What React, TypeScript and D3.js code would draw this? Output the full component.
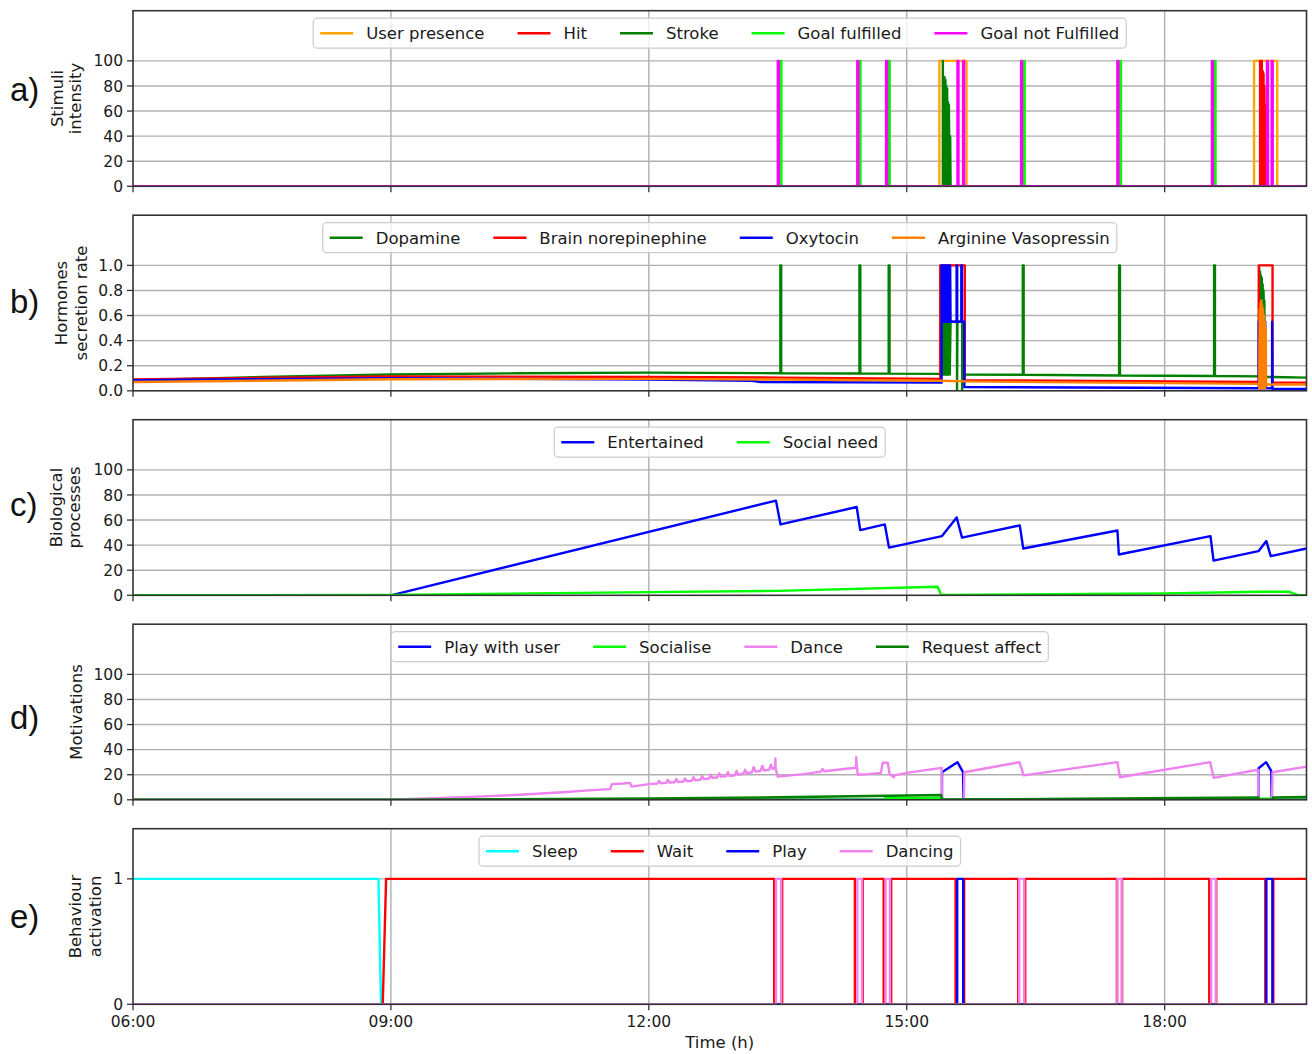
import React, { useEffect, useRef } from 'react';
import * as d3 from 'd3';

type Pt = [number, number];
type Iv = [number, number];

// ---------- shared time axis (hours of day) ----------
const timeDomain: [number, number] = [6, 19.65];
const timeTicks = [6, 9, 12, 15, 18];
const timeTickLabels = ['06:00', '09:00', '12:00', '15:00', '18:00'];

// ---------- a) stimuli ----------
const stimuliNames = ['User presence', 'Hit', 'Stroke', 'Goal fulfilled', 'Goal not Fulfilled'];
const stimuliColors = ['#FFA500', '#FF0000', '#008000', '#00FF00', '#FF00FF'];
const userPresenceIntervals: Iv[] = [[15.38, 15.695], [19.04, 19.31]];
const hitPoints: Pt[] = [
  [6, 0], [19.11, 0], [19.11, 100], [19.115, 0], [19.12, 100], [19.125, 0], [19.13, 100], [19.135, 0],
  [19.14, 92], [19.145, 0], [19.15, 90], [19.155, 0], [19.16, 80], [19.165, 0], [19.17, 65], [19.175, 0],
  [19.18, 60], [19.185, 0], [19.65, 0],
];
const strokePoints: Pt[] = [
  [6, 0], [15.42, 0], [15.42, 100], [15.425, 0], [15.43, 60], [15.435, 0], [15.44, 87], [15.445, 0],
  [15.45, 85], [15.455, 20], [15.46, 80], [15.465, 0], [15.47, 78], [15.475, 10], [15.48, 67], [15.485, 0],
  [15.49, 65], [15.5, 0], [15.505, 40], [15.51, 0], [19.65, 0],
];
const goalFulfilledTimes = [13.53, 14.45, 14.79, 16.36, 17.48, 18.58];
const goalNotFulfilledTimes = [13.5, 14.425, 14.76, 15.59, 15.655, 16.33, 17.45, 18.55, 19.19, 19.245];
const stimuliTicks = [0, 20, 40, 60, 80, 100];

// ---------- b) hormones ----------
const hormoneNames = ['Dopamine', 'Brain norepinephine', 'Oxytocin', 'Arginine Vasopressin'];
const hormoneColors = ['#008000', '#FF0000', '#0000FF', '#FF8000'];
const dopaminePoints: Pt[] = [
  [6, 0.085], [7.5, 0.11], [9, 0.13], [10.5, 0.14], [12, 0.145],
  [13.53, 0.14], [13.53, 1], [13.54, 1], [13.54, 0.14],
  [14.45, 0.138], [14.45, 1], [14.46, 1], [14.46, 0.138],
  [14.79, 0.137], [14.79, 1], [14.8, 1], [14.8, 0.137],
  [15.405, 0.135], [15.41, 0.55], [15.415, 0.13], [15.42, 0.55], [15.425, 0.13], [15.43, 0.55], [15.435, 0.13],
  [15.44, 0.55], [15.445, 0.13], [15.45, 0.55], [15.455, 0.13], [15.46, 0.55], [15.465, 0.13], [15.47, 0.55],
  [15.475, 0.13], [15.48, 0.55], [15.485, 0.13], [15.49, 0.55], [15.5, 0.55], [15.5, 0.13], [15.51, 0.55],
  [15.585, 0.55], [15.585, 0], [15.59, 0.55], [15.645, 0.55], [15.645, 0], [15.65, 0.55], [15.665, 0.55],
  [15.665, 0.13],
  [16.35, 0.128], [16.35, 1], [16.36, 1], [16.36, 0.128],
  [17.47, 0.122], [17.47, 1], [17.48, 1], [17.48, 0.122],
  [18.575, 0.118], [18.575, 1], [18.585, 1], [18.585, 0.118],
  [19.095, 0.115], [19.1, 0.98], [19.105, 0.6], [19.11, 0.95], [19.115, 0.7], [19.12, 0.92], [19.125, 0.75],
  [19.13, 0.9], [19.135, 0.7], [19.14, 0.85], [19.145, 0.6], [19.15, 0.8], [19.155, 0.55], [19.16, 0.72],
  [19.165, 0.11], [19.26, 0.11], [19.65, 0.105],
];
const norepinephrinePoints: Pt[] = [
  [6, 0.09], [9, 0.115], [12, 0.11], [13.5, 0.105], [15.39, 0.095], [15.39, 1], [15.675, 1], [15.675, 0.085],
  [19.095, 0.07], [19.095, 1], [19.255, 1], [19.255, 0.065], [19.65, 0.065],
];
const oxytocinPoints: Pt[] = [
  [6, 0.085], [9, 0.1], [12, 0.09], [13.2, 0.08], [13.3, 0.07], [15.405, 0.065], [15.405, 1], [15.41, 0.55],
  [15.415, 1], [15.42, 0.55], [15.425, 1], [15.43, 0.55], [15.435, 1], [15.44, 0.55], [15.445, 1], [15.45, 0.55],
  [15.455, 1], [15.46, 0.55], [15.465, 1], [15.47, 0.55], [15.475, 1], [15.48, 0.55], [15.485, 1], [15.49, 0.55],
  [15.495, 1], [15.5, 0.55], [15.505, 1], [15.51, 0.55], [15.58, 0.55], [15.58, 1], [15.587, 1], [15.587, 0.55],
  [15.635, 0.55], [15.635, 1], [15.642, 1], [15.642, 0.55], [15.67, 0.55], [15.67, 0.03],
  [19.095, 0.02], [19.095, 0.55], [19.1, 0.02], [19.17, 0.02], [19.17, 0.55], [19.175, 0.02],
  [19.25, 0.02], [19.25, 0.55], [19.255, 0.015], [19.65, 0.015],
];
const vasopressinPoints: Pt[] = [
  [6, 0.07], [9, 0.092], [12, 0.095], [13.5, 0.09], [15.4, 0.08], [15.67, 0.075], [19.1, 0.055],
  [19.1, 0.02], [19.105, 0.65], [19.11, 0.02], [19.115, 0.7], [19.12, 0.05], [19.125, 0.72], [19.13, 0.02],
  [19.135, 0.68], [19.14, 0.05], [19.145, 0.65], [19.15, 0.02], [19.155, 0.6], [19.16, 0.05], [19.165, 0.55],
  [19.17, 0.02], [19.175, 0.5], [19.18, 0.05], [19.65, 0.05],
];
const hormoneTicks = [0, 0.2, 0.4, 0.6, 0.8, 1.0];

// ---------- c) biological processes ----------
const bioNames = ['Entertained', 'Social need'];
const bioColors = ['#0000FF', '#00FF00'];
const entertainedPoints: Pt[] = [
  [6, 0], [9, 0], [13.479, 75.5], [13.532, 56.5], [14.418, 70.4], [14.459, 52], [14.745, 56.5], [14.794, 38],
  [15.41, 47.2], [15.581, 62], [15.643, 46], [16.315, 55.7], [16.355, 37.3], [17.451, 51.7], [17.467, 32.5],
  [18.533, 47.2], [18.569, 27.7], [19.091, 35.2], [19.183, 43.2], [19.234, 31.2], [19.65, 37.3],
];
const socialNeedPoints: Pt[] = [
  [6, 0], [9, 0.3], [12, 2.5], [13.5, 3.5], [15.36, 6.8], [15.4, 0.3], [18, 1.5], [19.1, 2.8], [19.45, 2.8],
  [19.56, 0], [19.65, 0],
];
const bioTicks = [0, 20, 40, 60, 80, 100];

// ---------- d) motivations ----------
const motivationNames = ['Play with user', 'Socialise', 'Dance', 'Request affect'];
const motivationColors = ['#0000FF', '#00FF00', '#EE82EE', '#008000'];
const playWithUserPoints: Pt[] = [
  [6, 0], [15.41, 0], [15.41, 22], [15.59, 30], [15.655, 22], [15.66, 0], [19.09, 0], [19.09, 25],
  [19.18, 30], [19.24, 23], [19.245, 0], [19.65, 0],
];
const socialisePoints: Pt[] = [
  [6, 0], [14.75, 0], [14.75, 1.5], [15.405, 1.5], [15.41, 0], [19.09, 0], [19.09, 0.8], [19.25, 0.8],
  [19.25, 0], [19.65, 0],
];
const dancePoints: Pt[] = [
  [6, 0], [9, 0], [9.5, 1.2], [10, 2.5], [10.5, 4], [11, 6], [11.3, 7.5], [11.55, 8.5], [11.57, 12.5],
  [11.7, 13], [11.78, 13.5], [11.8, 10.5], [12, 12.5], [12.1, 13], [12.12, 15], [12.14, 13.2], [12.2, 13.5],
  [12.22, 16], [12.24, 13.8], [12.3, 14], [12.32, 16.5], [12.34, 14.2], [12.4, 14.5],
  [12.42, 17], [12.44, 14.8], [12.5, 15.2], [12.52, 18], [12.54, 15.5], [12.6, 16], [12.62, 19], [12.64, 16.5],
  [12.7, 17], [12.72, 20], [12.74, 17.4], [12.8, 18], [12.82, 21], [12.84, 18.5], [12.9, 18.8], [12.92, 22],
  [12.94, 19], [13.0, 19.5], [13.02, 23], [13.04, 20], [13.1, 20.8], [13.12, 24], [13.14, 21.2], [13.2, 22],
  [13.22, 26], [13.24, 22.5], [13.3, 23], [13.32, 27], [13.34, 23.4], [13.4, 24], [13.42, 28],
  [13.44, 24.5], [13.47, 26], [13.472, 33], [13.475, 25], [13.5, 18.5], [13.8, 20.5], [14.0, 22.5], [14.02, 24.5],
  [14.04, 22.8], [14.3, 24.8], [14.41, 25.5], [14.412, 34], [14.42, 27], [14.43, 20], [14.55, 20.5], [14.7, 21.5],
  [14.72, 29.5], [14.78, 29.5], [14.8, 20.5], [14.85, 18], [14.86, 19.5], [15.0, 21.5], [15.2, 23.5],
  [15.405, 25.5], [15.41, 0], [15.665, 0], [15.67, 22], [16.31, 30], [16.36, 19.5], [17.45, 30], [17.48, 18],
  [18.53, 30], [18.57, 17.5], [19.085, 24], [19.09, 0], [19.25, 0], [19.255, 22], [19.65, 26.5],
];
const requestAffectPoints: Pt[] = [
  [6, 0], [9, 0.1], [12, 1.0], [13.5, 2.0], [14.8, 3.2], [15.4, 3.8], [15.41, 0.3], [17, 0.8], [19.09, 1.8],
  [19.09, 0.3], [19.26, 0.3], [19.26, 1.8], [19.65, 2.2],
];
const motivationTicks = [0, 20, 40, 60, 80, 100];

// ---------- e) behaviours ----------
const behaviourNames = ['Sleep', 'Wait', 'Play', 'Dancing'];
const behaviourColors = ['#00FFFF', '#FF0000', '#0000FF', '#EE82EE'];
const sleepPoints: Pt[] = [[6, 1], [8.855, 1], [8.885, 0], [19.65, 0]];
const waitStart: Pt[] = [[6, 0], [8.905, 0], [8.944, 1]];
const waitOffIntervals: Iv[] = [
  [13.458, 13.551], [14.397, 14.488], [14.732, 14.819], [15.568, 15.668], [16.297, 16.378],
  [17.445, 17.505], [18.519, 18.6], [19.171, 19.264],
];
const playIntervals: Iv[] = [[15.587, 15.657], [19.183, 19.253]];
const dancingIntervals: Iv[] = [
  [13.479, 13.539], [14.426, 14.479], [14.753, 14.805], [16.308, 16.366], [17.451, 17.5], [18.541, 18.594],
];
const behaviourTicks = [0, 1];

// ---------- helpers building step series from read intervals ----------
function pulses(iv: Iv[], low: number, high: number): Pt[] {
  const pts: Pt[] = [[timeDomain[0], low]];
  iv.forEach(([a, b]) => pts.push([a, low], [a, high], [b, high], [b, low]));
  pts.push([timeDomain[1], low]);
  return pts;
}
function spikes(times: number[], low: number, high: number): Pt[] {
  return pulses(times.map((t) => [t, t + 0.012] as Iv), low, high);
}
function gaps(start: Pt[], iv: Iv[], high: number): Pt[] {
  const pts: Pt[] = [...start];
  iv.forEach(([a, b]) => pts.push([a, high], [a, 0], [b, 0], [b, high]));
  pts.push([timeDomain[1], high]);
  return pts;
}

interface Panel {
  letter: string;
  letterY: number;
  ylabel: string[];
  ylabelX: number[];
  yMax: number;
  ticks: number[];
  fmt: (v: number) => string;
  names: string[];
  colors: string[];
  series: Pt[][];
}

const panels: Panel[] = [
  {
    letter: 'a)', letterY: 101, ylabel: ['Stimuli', 'intensity'], ylabelX: [63, 81], yMax: 140,
    ticks: stimuliTicks, fmt: (v) => String(v), names: stimuliNames, colors: stimuliColors,
    series: [pulses(userPresenceIntervals, 0, 100), hitPoints, strokePoints, spikes(goalFulfilledTimes, 0, 100),
      spikes(goalNotFulfilledTimes, 0, 100)],
  },
  {
    letter: 'b)', letterY: 313, ylabel: ['Hormones', 'secretion rate'], ylabelX: [67, 87], yMax: 1.4,
    ticks: hormoneTicks, fmt: (v) => v.toFixed(1), names: hormoneNames, colors: hormoneColors,
    series: [dopaminePoints, norepinephrinePoints, oxytocinPoints, vasopressinPoints],
  },
  {
    letter: 'c)', letterY: 516, ylabel: ['Biological', 'processes'], ylabelX: [62, 80], yMax: 140,
    ticks: bioTicks, fmt: (v) => String(v), names: bioNames, colors: bioColors,
    series: [entertainedPoints, socialNeedPoints],
  },
  {
    letter: 'd)', letterY: 729, ylabel: ['Motivations'], ylabelX: [82], yMax: 140,
    ticks: motivationTicks, fmt: (v) => String(v), names: motivationNames, colors: motivationColors,
    series: [playWithUserPoints, socialisePoints, dancePoints, requestAffectPoints],
  },
  {
    letter: 'e)', letterY: 928, ylabel: ['Behaviour', 'activation'], ylabelX: [81, 101], yMax: 1.4,
    ticks: behaviourTicks, fmt: (v) => String(v), names: behaviourNames, colors: behaviourColors,
    series: [sleepPoints, gaps(waitStart, waitOffIntervals, 1), pulses(playIntervals, 0, 1),
      pulses(dancingIntervals, 0, 1)],
  },
];

const W = 1312;
const H = 1054;
const LEFT = 133;
const RIGHT = 1306.5;
const TOP0 = 10.7;
const STEP = 204.5;
const PH = 175.6;
const FONT = 'DejaVu Sans, sans-serif';

export default function App() {
  const ref = useRef<SVGSVGElement>(null);

  useEffect(() => {
    const svg = d3.select(ref.current);
    svg.selectAll('*').remove();
    const x = d3.scaleLinear().domain(timeDomain).range([LEFT, RIGHT]);

    panels.forEach((p, i) => {
      const top = TOP0 + i * STEP;
      const bottom = top + PH;
      const y = d3.scaleLinear().domain([0, p.yMax]).range([bottom, top]);
      const g = svg.append('g');
      const clipId = `clip${i}`;
      g.append('clipPath').attr('id', clipId).append('rect')
        .attr('x', LEFT).attr('y', top).attr('width', RIGHT - LEFT).attr('height', PH);

      // grid
      g.selectAll('.vg').data(timeTicks.slice(1)).enter().append('line')
        .attr('x1', (d) => x(d)).attr('x2', (d) => x(d)).attr('y1', top).attr('y2', bottom)
        .attr('stroke', '#b0b0b0').attr('stroke-width', 1.4);
      g.selectAll('.hg').data(p.ticks.slice(1)).enter().append('line')
        .attr('x1', LEFT).attr('x2', RIGHT).attr('y1', (d) => y(d)).attr('y2', (d) => y(d))
        .attr('stroke', '#b0b0b0').attr('stroke-width', 1.4);

      // series
      const line = d3.line<Pt>().x((d) => x(d[0])).y((d) => y(d[1]));
      const sg = g.append('g').attr('clip-path', `url(#${clipId})`);
      p.series.forEach((s, k) => {
        sg.append('path').attr('d', line(s) as string).attr('fill', 'none')
          .attr('stroke', p.colors[k]).attr('stroke-width', 2.4).attr('stroke-linejoin', 'round');
      });

      // spines
      g.append('rect').attr('x', LEFT).attr('y', top).attr('width', RIGHT - LEFT).attr('height', PH)
        .attr('fill', 'none').attr('stroke', '#333').attr('stroke-width', 1.6);

      // y ticks
      p.ticks.forEach((t) => {
        g.append('line').attr('x1', LEFT - 6).attr('x2', LEFT).attr('y1', y(t)).attr('y2', y(t))
          .attr('stroke', '#333').attr('stroke-width', 1.3);
        g.append('text').attr('x', LEFT - 10).attr('y', y(t)).attr('dy', '0.36em')
          .attr('text-anchor', 'end').attr('font-family', FONT).attr('font-size', 15.5)
          .attr('fill', '#1a1a1a').text(p.fmt(t));
      });
      // x ticks
      timeTicks.forEach((t, k) => {
        g.append('line').attr('x1', x(t)).attr('x2', x(t)).attr('y1', bottom).attr('y2', bottom + 6)
          .attr('stroke', '#333').attr('stroke-width', 1.3);
        if (i === panels.length - 1) {
          g.append('text').attr('x', x(t)).attr('y', bottom + 23).attr('text-anchor', 'middle')
            .attr('font-family', FONT).attr('font-size', 15.5).attr('fill', '#1a1a1a').text(timeTickLabels[k]);
        }
      });

      // y label
      const cy = (top + bottom) / 2;
      p.ylabel.forEach((txt, k) => {
        g.append('text').attr('transform', `translate(${p.ylabelX[k]},${cy}) rotate(-90)`)
          .attr('text-anchor', 'middle').attr('font-family', FONT).attr('font-size', 16.5)
          .attr('fill', '#1a1a1a').text(txt);
      });

      // panel letter
      g.append('text').attr('x', 10).attr('y', p.letterY).attr('font-family', 'Liberation Sans, Arial, sans-serif')
        .attr('font-size', 33).attr('fill', '#111').text(p.letter);

      // legend (upper center)
      const lg = g.append('g');
      const box = lg.append('rect');
      const texts = p.names.map((n) => lg.append('text').attr('font-family', FONT).attr('font-size', 16.5)
        .attr('fill', '#1a1a1a').text(n));
      const widths = texts.map((t) => (t.node() as SVGTextElement).getComputedTextLength());
      const pad = 7, handle = 33, tp = 13, colsp = 33;
      const total = pad * 2 + d3.sum(widths) + p.names.length * (handle + tp) + (p.names.length - 1) * colsp;
      const bx = (LEFT + RIGHT) / 2 - total / 2;
      const by = top + 7.5;
      const bh = 30;
      box.attr('x', bx).attr('y', by).attr('width', total).attr('height', bh).attr('rx', 4)
        .attr('fill', 'white').attr('fill-opacity', 0.8).attr('stroke', '#cccccc').attr('stroke-width', 1.2);
      let cx = bx + pad;
      p.names.forEach((_, k) => {
        lg.insert('line', 'text').attr('x1', cx).attr('x2', cx + handle).attr('y1', by + bh / 2).attr('y2', by + bh / 2)
          .attr('stroke', p.colors[k]).attr('stroke-width', 2.4);
        texts[k].attr('x', cx + handle + tp).attr('y', by + bh / 2).attr('dy', '0.36em');
        cx += handle + tp + widths[k] + colsp;
      });
    });

    svg.append('text').attr('x', (LEFT + RIGHT) / 2).attr('y', 1048).attr('text-anchor', 'middle')
      .attr('font-family', FONT).attr('font-size', 16.5).attr('fill', '#1a1a1a').text('Time (h)');
  }, []);

  return (
    <svg ref={ref} width={W} height={H} style={{ position: 'absolute', left: 0, top: 0, background: 'white' }} />
  );
}
